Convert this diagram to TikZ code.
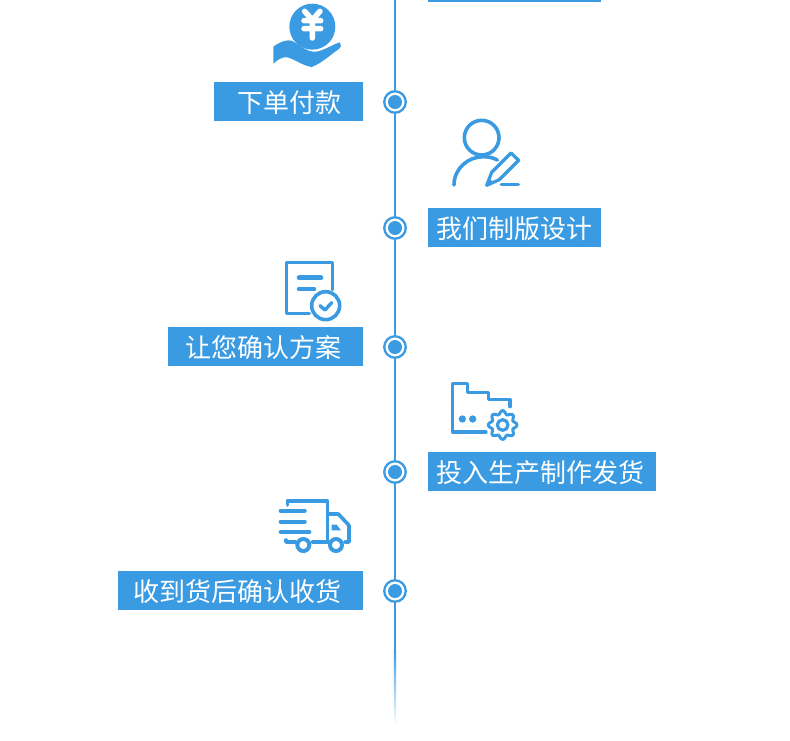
\documentclass[tikz,border=0pt]{standalone}
\usepackage{fontspec}
\setmainfont{Noto Sans CJK SC}
\definecolor{bl}{HTML}{3A9BE2}
\tikzset{
  spine/.style={draw=bl,line width=2.2pt},
  ring/.style={circle,draw=bl,line width=2.3pt,fill=white,minimum size=21.5pt,inner sep=0pt},
  dot/.style={circle,fill=bl,minimum size=14pt,inner sep=0pt},
  lab/.style={fill=bl,text=white,inner sep=0pt,minimum height=39pt,text height=23pt,text depth=2pt,font=\fontsize{26pt}{27pt}\selectfont},
  ic/.style={draw=bl,line width=3.6pt,line cap=round,line join=round},
}
\begin{document}
\begin{tikzpicture}[x=1pt,y=-1pt]
\useasboundingbox[fill=white] (0,0) rectangle (790,740);
% spine
\coordinate (top) at (395,0);
\coordinate (fadestart) at (395,650);
\coordinate (fadeend) at (395,725);
\node[ring] (r1) at (395,102) {};
\node[ring] (r2) at (395,228) {};
\node[ring] (r3) at (395,347) {};
\node[ring] (r4) at (395,472) {};
\node[ring] (r5) at (395,591) {};
\draw[spine] (top) -- (r1);
\draw[spine] (r1) -- (r2);
\draw[spine] (r2) -- (r3);
\draw[spine] (r3) -- (r4);
\draw[spine] (r4) -- (r5);
\draw[spine] (r5) -- (fadestart);
\shade[top color=bl,bottom color=white] (393.9,650) rectangle (396.1,725);
\node[dot] (d1) at (r1) {};
\node[dot] (d2) at (r2) {};
\node[dot] (d3) at (r3) {};
\node[dot] (d4) at (r4) {};
\node[dot] (d5) at (r5) {};
% top stub
\fill[bl] (428,0) rectangle (601,2);
% labels
\node[lab,anchor=east] (l1) at (363,101.5) {\hspace*{24pt}下单付款\hspace*{21pt}};
\node[lab,anchor=west] (l2) at (428,227.5) {\hspace*{8pt}我们制版设计\hspace*{9pt}};
\node[lab,anchor=east] (l3) at (363,346.5) {\hspace*{18pt}让您确认方案\hspace*{21pt}};
\node[lab,anchor=west] (l4) at (428,471.5) {\hspace*{8pt}投入生产制作发货\hspace*{12pt}};
\node[lab,anchor=east] (l5) at (363,590.5) {\hspace*{16pt}收到货后确认收货\hspace*{21pt}};
% hand + yen
\begin{scope}[shift={(200,0)},scale=1/3]
\fill[bl] (337,80) circle (69);
\draw[white,line width=5.5pt,line cap=round] (314,34) -- (337,60) -- (360,34) (312,62) -- (362,62) (312,86) -- (362,86) (337,62) -- (337,114);
\fill[bl] (220,191) -- (220,140) .. controls (240,125) and (262,118) .. (275,122)
  .. controls (300,135) and (320,158) .. (350,155)
  .. controls (375,150) and (400,132) .. (420,127)
  .. controls (425,135) and (423,142) .. (418,146)
  .. controls (390,165) and (365,190) .. (335,201)
  .. controls (310,198) and (285,178) .. (262,172)
  .. controls (245,170) and (232,180) .. (220,191) -- cycle;
\end{scope}
% person + pencil
\begin{scope}[shift={(380,110)},scale=1/3]
\draw[ic] (305,83) circle (52);
\draw[ic] (222,225) .. controls (222,175) and (265,140) .. (310,140) .. controls (325,140) and (340,143) .. (352,150);
\draw[ic,line width=3.2pt] (320,226) -- (335,187) -- (393,129) -- (416,151) -- (358,209) -- cycle;
\fill[bl] (320,226) -- (327,205) -- (342,218) -- cycle;
\draw[ic] (364,224) -- (415,224);
\end{scope}
% document
\begin{scope}[shift={(270,255)},scale=1/3]
\draw[ic] (118,175) -- (50,175) -- (50,22) -- (187,22) -- (187,104);
\draw[ic,line width=4.6pt] (87,68) -- (153,68);
\draw[ic,line width=4.6pt] (87,102) -- (132,102);
\draw[ic] (167,152) circle (42);
\draw[ic,line width=3.4pt] (150,152) -- (165,165) -- (185,143);
\end{scope}
% folder + gear
\begin{scope}[shift={(380,375)},scale=1/3]
\draw[ic,line width=3.2pt] (318,171) -- (217,171) -- (217,25) -- (262,25) -- (262,52) -- (325,52) -- (325,73) -- (390,73) -- (390,95);
\fill[bl] (247,132) circle (11);
\fill[bl] (278,132) circle (11);
\draw[ic,line width=3pt] plot[smooth cycle,samples=96,domain=0:356.25] ({368+(38+5*cos(8*\x))*cos(\x)},{150+(38+5*cos(8*\x))*sin(\x)});
\draw[ic,line width=3.2pt] (368,150) circle (16);
\end{scope}
% truck
\begin{scope}[shift={(270,490)},scale=1/3]
\draw[ic] (52,45) -- (52,33) -- (172,33) -- (172,156) -- (128,156);
\draw[ic] (172,72) -- (205,72) -- (237,106) -- (237,156) -- (224,156);
\draw[ic] (172,156) -- (176,156);
\draw[ic] (48,150) -- (48,156) -- (76,156);
\draw[ic,line width=4.2pt] (32,62) -- (104,62);
\draw[ic,line width=4.2pt] (32,95) -- (104,95);
\draw[ic,line width=4.2pt] (32,126) -- (118,126);
\draw[ic,line width=4pt] (100,165) circle (18);
\draw[ic,line width=4pt] (198,165) circle (18);
\fill[bl] (185,104) -- (200,104) -- (213,121) -- (185,121) -- cycle;
\end{scope}
\end{tikzpicture}
\end{document}
